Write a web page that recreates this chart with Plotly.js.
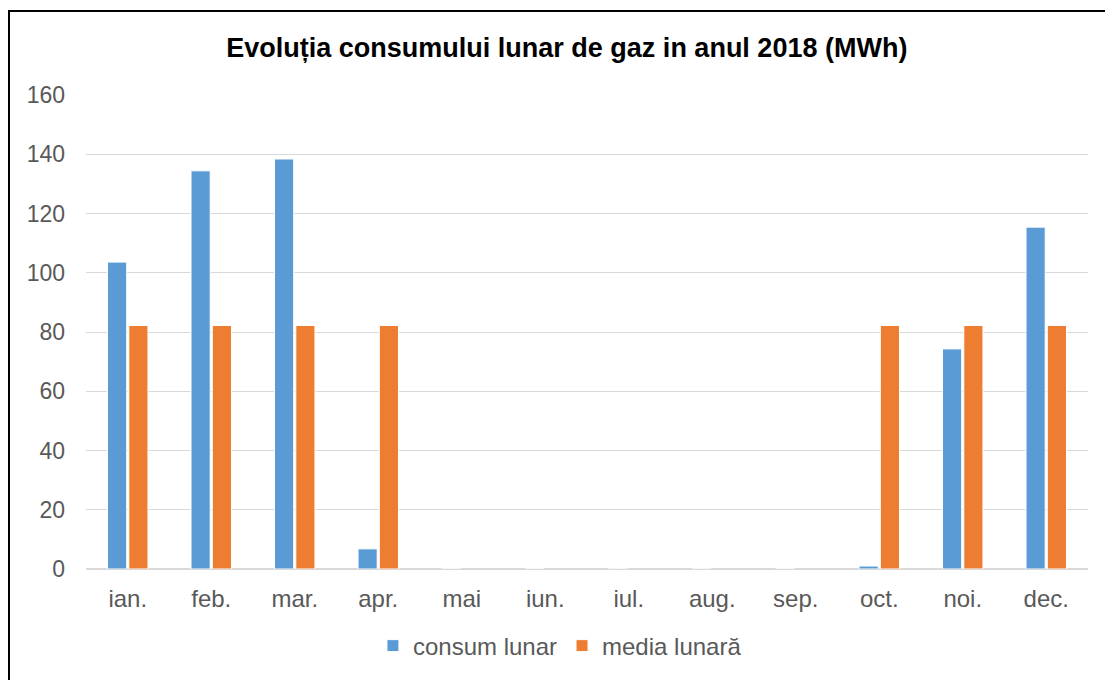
<!DOCTYPE html>
<html>
<head>
<meta charset="utf-8">
<script src="https://cdn.plot.ly/plotly-3.0.1.min.js"></script>
<style>
  body { margin: 0; background: #fff; }
  #chart { width: 1105px; height: 680px; }
  #frame { position: absolute; left: 8px; top: 10px; width: 1110px; height: 700px;
           border: 2px solid #000; pointer-events: none; box-sizing: border-box; }
</style>
</head>
<body>
<div id="chart"></div>
<div id="frame"></div>
<script>
const months = ['ian.', 'feb.', 'mar.', 'apr.', 'mai', 'iun.', 'iul.', 'aug.', 'sep.', 'oct.', 'noi.', 'dec.'];
const consumLunar = [103.6, 134.4, 138.4, 6.8, 0, 0, 0, 0, 0, 1.0, 74.3, 115.4];
const mediaLunara = [82.2, 82.2, 82.2, 82.2, null, null, null, null, null, 82.2, 82.2, 82.2];

const data = [
  {
    x: months,
    y: consumLunar,
    name: 'consum lunar',
    type: 'bar',
    marker: { color: '#5B9BD5', line: { color: '#ffffff', width: 1 } }
  },
  {
    x: months,
    y: mediaLunara,
    name: 'media lunară',
    type: 'bar',
    marker: { color: '#ED7D31', line: { color: '#ffffff', width: 1 } }
  }
];

const layout = {
  width: 1105,
  height: 680,
  paper_bgcolor: '#fff',
  plot_bgcolor: '#fff',
  font: { family: 'Liberation Sans, Arial, sans-serif', color: '#595959', size: 23 },
  title: {
    text: '<b>Evoluția consumului lunar de gaz in anul 2018 (MWh)</b>',
    font: { size: 27, color: '#000' },
    x: 0.513, xanchor: 'center', y: 0.93, yanchor: 'middle'
  },
  margin: { l: 86, r: 17, t: 95, b: 111 },
  barmode: 'group',
  bargap: 0.49,
  bargroupgap: 0.1,
  xaxis: {
    showgrid: false,
    showline: false,
    ticks: '',
    ticklabelstandoff: 13,
    tickfont: { size: 24, color: '#595959' }
  },
  yaxis: {
    range: [0, 160],
    dtick: 20,
    gridcolor: '#d9d9d9',
    gridwidth: 1,
    zeroline: true,
    zerolinecolor: '#d9d9d9',
    zerolinewidth: 2,
    ticks: '',
    ticklabelstandoff: 20,
    tickfont: { size: 23, color: '#595959' }
  },
  legend: {
    orientation: 'h',
    x: 0.473, xanchor: 'center',
    y: -0.115, yanchor: 'top',
    font: { size: 24, color: '#595959' },
    itemwidth: 30
  },
  showlegend: true
};

Plotly.newPlot('chart', data, layout, { displayModeBar: false });
</script>
</body>
</html>
